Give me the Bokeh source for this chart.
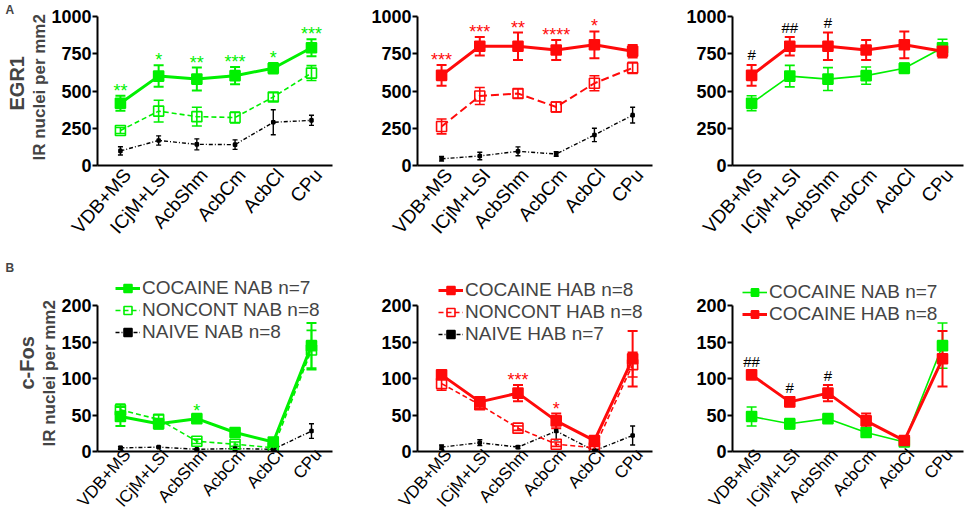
from bokeh.plotting import figure
from bokeh.models import (Range1d, FixedTicker, ColumnDataSource, Whisker, TeeHead,
                          Legend, LegendItem, Title)
from bokeh.layouts import row, column
from bokeh.embed import file_html
from bokeh.resources import INLINE
from bokeh.core.properties import value

# ---------------- data ----------------
regions = ["VDB+MS", "ICjM+LSI", "AcbShm", "AcbCm", "AcbCl", "CPu"]

egr1_yticks = [0, 250, 500, 750, 1000]
cfos_yticks = [0, 50, 100, 150, 200]

# EGR1 (IR nuclei per mm2)
egr1_coc_nab = [418, 600, 580, 603, 653, 790]
egr1_coc_nab_sem = [50, 72, 77, 58, 35, 57]
egr1_nc_nab = [235, 365, 328, 322, 460, 620]
egr1_nc_nab_sem = [20, 73, 63, 37, 28, 50]
egr1_nv_nab = [98, 168, 142, 140, 290, 303]
egr1_nv_nab_sem = [28, 31, 37, 32, 84, 34]

egr1_coc_hab = [605, 800, 800, 775, 810, 767]
egr1_coc_hab_sem = [70, 62, 92, 67, 90, 42]
egr1_nc_hab = [262, 466, 483, 393, 552, 655]
egr1_nc_hab_sem = [50, 57, 30, 33, 50, 38]
egr1_nv_hab = [45, 64, 95, 77, 205, 338]
egr1_nv_hab_sem = [15, 25, 30, 15, 45, 53]

# c-Fos (IR nuclei per mm2)
cfos_coc_nab = [48, 38, 45, 26, 13, 145]
cfos_coc_nab_sem = [13, 7, 3, 3, 3, 31]
cfos_nc_nab = [57, 44, 14, 10, 5, 139]
cfos_nc_nab_sem = [8, 6, 3, 3, 2, 27]
cfos_nv_nab = [5, 6, 3, 4, 3, 28]
cfos_nv_nab_sem = [2, 1, 1, 3, 1, 10]

cfos_coc_hab = [105, 68, 80, 42, 15, 127]
cfos_coc_hab_sem = [5, 6, 11, 10, 3, 38]
cfos_nc_hab = [93, 64, 32, 10, 5, 119]
cfos_nc_hab_sem = [9, 5, 3, 3, 2, 17]
cfos_nv_hab = [6, 12, 6, 28, 1, 22]
cfos_nv_hab_sem = [3, 4, 2, 12, 1, 13]

# significance marks
egr1_nab_stars = ["**", "*", "**", "***", "*", "***"]
egr1_hab_stars = ["***", "***", "**", "****", "*", ""]
egr1_hash = ["#", "##", "#", "", "", ""]
cfos_nab_stars = ["", "", "*", "", "", ""]
cfos_hab_stars = ["", "", "***", "*", "", ""]
cfos_hash = ["##", "#", "#", "", "", ""]

leg_nab = ["COCAINE NAB n=7", "NONCONT NAB n=8", "NAIVE NAB n=8"]
leg_hab = ["COCAINE HAB n=8", "NONCONT HAB n=8", "NAIVE HAB n=7"]
leg_cmp = ["COCAINE NAB n=7", "COCAINE HAB n=8"]

# ---------------- style ----------------
GREEN = "#00f000"
RED = "#ff0a0a"
FONT = "Liberation Sans"

X = list(range(len(regions)))
LABEL_SHIFT = 0.18   # tick-label anchor shift (category units)


def make_fig(width, left, right, height, top, bottom, xr, ymax, ybound, yticks,
             lab_standoff, lab_size):
    p = figure(width=width, height=height, x_range=Range1d(*xr), y_range=Range1d(0, ymax),
               output_backend="svg", toolbar_location=None,
               min_border_left=left, min_border_right=right,
               min_border_top=top, min_border_bottom=bottom)
    p.outline_line_color = None
    p.grid.visible = False
    p.background_fill_color = "white"
    p.border_fill_color = "white"
    xa = p.xaxis[0]
    ticks = [i + LABEL_SHIFT for i in X]
    xa.ticker = FixedTicker(ticks=ticks, minor_ticks=[])
    xa.major_label_overrides = {t: r for t, r in zip(ticks, regions)}
    xa.major_label_orientation = 0.85
    xa.major_label_text_font = FONT
    xa.major_label_text_font_size = lab_size
    xa.major_label_text_color = "black"
    xa.major_label_standoff = lab_standoff
    xa.axis_line_width = 2
    xa.axis_line_color = "black"
    xa.major_tick_out = 0
    xa.major_tick_in = 0
    xa.minor_tick_out = 0
    xa.minor_tick_in = 0
    ya = p.yaxis[0]
    ya.ticker = FixedTicker(ticks=yticks, minor_ticks=[])
    ya.bounds = (0, ybound)
    ya.major_label_text_font = FONT
    ya.major_label_text_font_size = "18px"
    ya.major_label_text_font_style = "bold"
    ya.major_label_text_color = "black"
    ya.major_label_standoff = 1
    ya.axis_line_width = 2
    ya.axis_line_color = "black"
    ya.major_tick_line_width = 2
    ya.major_tick_out = 5
    ya.major_tick_in = 0
    ya.minor_tick_out = 0
    ya.minor_tick_in = 0
    return p


def series(p, means, sems, color, lw, dash, msize, filled, cap, elw):
    src = ColumnDataSource(dict(x=X, y=means,
                                lo=[m - s for m, s in zip(means, sems)],
                                hi=[m + s for m, s in zip(means, sems)]))
    w = Whisker(source=src, base="x", upper="hi", lower="lo", dimension="height",
                line_color=color, line_width=elw,
                upper_head=TeeHead(size=cap, line_color=color, line_width=elw),
                lower_head=TeeHead(size=cap, line_color=color, line_width=elw))
    p.add_layout(w)
    ln = p.line("x", "y", source=src, line_color=color, line_width=lw, line_dash=dash)
    sc = p.scatter("x", "y", source=src, marker="square", size=msize, line_color=color,
                   fill_color=color if filled else None, line_width=1.6)
    return ln, sc


def marks(p, means, sems, texts, color, size, yoff):
    s = ColumnDataSource(dict(x=X, y=[m + e for m, e in zip(means, sems)], t=texts))
    p.text("x", "y", text="t", source=s, text_color=color, text_font=value(FONT),
           text_font_size=value(size), text_align="center", text_baseline="alphabetic",
           y_offset=yoff)


def add_legend(p, items, x, y, gh, sp):
    lg = Legend(items=items, location=(x, y), background_fill_alpha=0, border_line_alpha=0,
                label_text_font=FONT, label_text_font_size="19px", glyph_width=25,
                glyph_height=gh, label_height=gh, spacing=sp, padding=0, margin=0,
                label_standoff=2)
    p.add_layout(lg)


def ytitles(p, t1, t2, off2, off1):
    p.add_layout(Title(text=t2, align="left", text_font=FONT, text_font_size="17px",
                       text_font_style="bold", standoff=0, offset=off2), "left")
    p.add_layout(Title(text=t1, align="left", text_font=FONT, text_font_size="20px",
                       text_font_style="bold", standoff=0, offset=off1), "left")


def letter(p, t):
    p.add_layout(Title(text=t, align="left", text_font=FONT, text_font_size="12px",
                       text_font_style="bold", standoff=0, offset=-92), "above")


# geometry (Bokeh's file template has no page margin)
W1, L1, R1 = 350, 97, 18
W2, L2, R2 = 315, 67, 13
W3, L3, R3 = 299, 67, 1
XR1 = (-0.6, 5.55)
XR2 = (-0.63, 5.52)
XR3 = (-0.5, 5.55)
HA, TA, BA = 258, 16, 93
HB, TB, BB = 262, 16, 69
YA_MAX = 1000
YB_MAX = 242.5
SO_A, SO_B = 6, 0
FS_A, FS_B = "19px", "17px"

# ---------------- row A: EGR1 ----------------
a1 = make_fig(W1, L1, R1, HA, 0, BA, XR1, YA_MAX, 1000, egr1_yticks, SO_A, FS_A)
series(a1, egr1_nv_nab, egr1_nv_nab_sem, "black", 1.4, "4 2 1 2", 3, True, 5, 1.4)
series(a1, egr1_nc_nab, egr1_nc_nab_sem, GREEN, 1.6, "5 3", 10, False, 10, 1.6)
series(a1, egr1_coc_nab, egr1_coc_nab_sem, GREEN, 3, "solid", 10, True, 10, 2)
marks(a1, egr1_coc_nab, egr1_coc_nab_sem, egr1_nab_stars, GREEN, "18px", -5)
ytitles(a1, "EGR1", "IR nuclei per mm2", 5, 55)
letter(a1, "A")

a2 = make_fig(W2, L2, R2, HA, TA, BA, XR2, YA_MAX, 1000, egr1_yticks, SO_A, FS_A)
series(a2, egr1_nv_hab, egr1_nv_hab_sem, "black", 1.4, "4 2 1 2", 3, True, 5, 1.4)
series(a2, egr1_nc_hab, egr1_nc_hab_sem, RED, 2, "8 4", 10, False, 10, 1.6)
series(a2, egr1_coc_hab, egr1_coc_hab_sem, RED, 3, "solid", 10, True, 10, 2)
marks(a2, egr1_coc_hab, egr1_coc_hab_sem, egr1_hab_stars, RED, "18px", -5)

a3 = make_fig(W3, L3, R3, HA, TA, BA, XR3, YA_MAX, 1000, egr1_yticks, SO_A, FS_A)
series(a3, egr1_coc_nab, egr1_coc_nab_sem, GREEN, 1.6, "solid", 10, True, 10, 1.6)
series(a3, egr1_coc_hab, egr1_coc_hab_sem, RED, 3, "solid", 10, True, 10, 2)
marks(a3, egr1_coc_hab, egr1_coc_hab_sem, egr1_hash, "black", "15px", -10)

# ---------------- row B: c-Fos ----------------
b1 = make_fig(W1, L1, R1, HB, 0, BB, XR1, YB_MAX, 200, cfos_yticks, SO_B, FS_B)
n1 = series(b1, cfos_nv_nab, cfos_nv_nab_sem, "black", 1.4, "4 2 1 2", 3, True, 5, 1.4)
c1 = series(b1, cfos_nc_nab, cfos_nc_nab_sem, GREEN, 1.6, "5 3", 10, False, 10, 1.6)
k1 = series(b1, cfos_coc_nab, cfos_coc_nab_sem, GREEN, 3, "solid", 10, True, 10, 2)
marks(b1, cfos_coc_nab, cfos_coc_nab_sem, cfos_nab_stars, GREEN, "18px", -5)
ytitles(b1, "c-Fos", "IR nuclei per mm2", 5, 62)
letter(b1, "B")
add_legend(b1, [LegendItem(label=leg_nab[0], renderers=list(k1)),
                LegendItem(label=leg_nab[1], renderers=list(c1)),
                LegendItem(label=leg_nab[2], renderers=list(n1))], 18, 108, 20, 0)

b2 = make_fig(W2, L2, R2, HB, TB, BB, XR2, YB_MAX, 200, cfos_yticks, SO_B, FS_B)
n2 = series(b2, cfos_nv_hab, cfos_nv_hab_sem, "black", 1.4, "4 2 1 2", 3, True, 5, 1.4)
c2 = series(b2, cfos_nc_hab, cfos_nc_hab_sem, RED, 1.6, "5 3", 10, False, 10, 1.6)
k2 = series(b2, cfos_coc_hab, cfos_coc_hab_sem, RED, 3, "solid", 10, True, 10, 2)
marks(b2, cfos_coc_hab, cfos_coc_hab_sem, cfos_hab_stars, RED, "18px", -5)
add_legend(b2, [LegendItem(label=leg_hab[0], renderers=list(k2)),
                LegendItem(label=leg_hab[1], renderers=list(c2)),
                LegendItem(label=leg_hab[2], renderers=list(n2))], 21, 106, 20, 0)

b3 = make_fig(W3, L3, R3, HB, TB, BB, XR3, YB_MAX, 200, cfos_yticks, SO_B, FS_B)
g3 = series(b3, cfos_coc_nab, cfos_coc_nab_sem, GREEN, 1.6, "solid", 10, True, 10, 1.6)
r3 = series(b3, cfos_coc_hab, cfos_coc_hab_sem, RED, 3, "solid", 10, True, 10, 2)
marks(b3, cfos_coc_hab, cfos_coc_hab_sem, cfos_hash, "black", "15px", -10)
add_legend(b3, [LegendItem(label=leg_cmp[0], renderers=list(g3)),
                LegendItem(label=leg_cmp[1], renderers=list(r3))], 10, 126, 18, -3)

layout = column(row(a1, a2, a3), row(b1, b2, b3))
open("out.html", "w").write(file_html(layout, INLINE))
